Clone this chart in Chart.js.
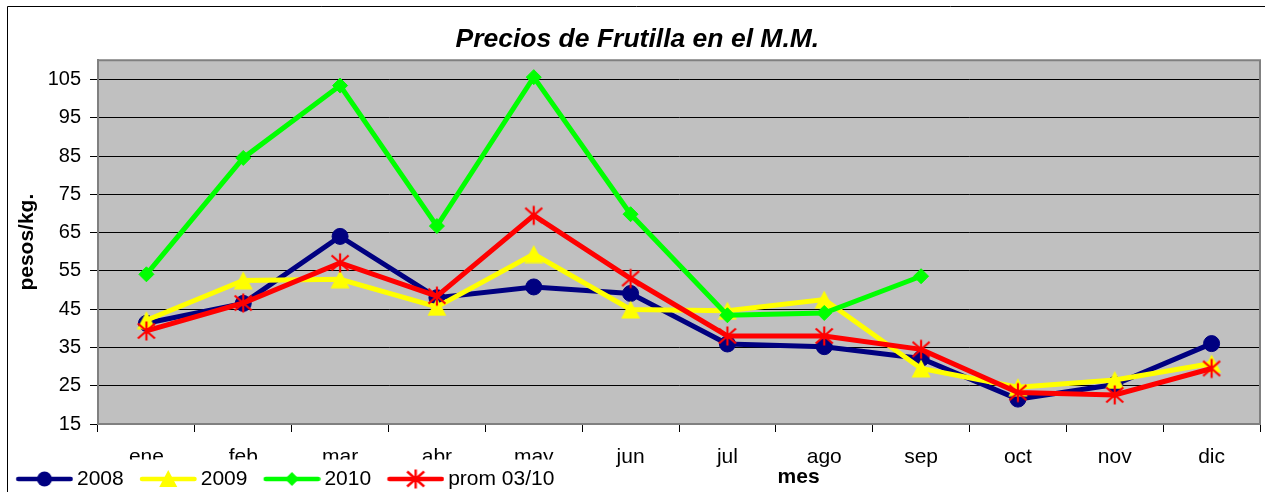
<!DOCTYPE html>
<html>
<head>
<meta charset="utf-8">
<script src="https://cdn.jsdelivr.net/npm/chart.js@4.4.1/dist/chart.umd.min.js"></script>
<style>
html,body{margin:0;padding:0;background:#ffffff;}
#wrap{width:1265px;height:492px;position:relative;overflow:hidden;}
canvas{display:block;}
</style>
</head>
<body>
<div id="wrap"><canvas id="c" width="1265" height="492"></canvas></div>
<script>
// ---- data ----
const categories = ['ene','feb','mar','abr','may','jun','jul','ago','sep','oct','nov','dic'];
const serie2008 = [41.3, 46.5, 64.0, 48.0, 50.8, 49.1, 35.9, 35.2, 32.1, 21.5, 25.3, 36.0];
const serie2009 = [42.1, 52.5, 52.8, 45.6, 59.4, 44.9, 44.6, 47.5, 29.5, 24.6, 26.5, 30.8];
const serie2010 = [54.1, 84.5, 103.4, 66.7, 105.6, 69.8, 43.4, 44.0, 53.6, null, null, null];
const seriePromedio = [39.3, 46.6, 57.1, 48.4, 69.5, 53.0, 38.0, 38.0, 34.5, 23.2, 22.6, 29.5];
const seriesNames = ['2008', '2009', '2010', 'prom 03/10'];
const yTicks = [15, 25, 35, 45, 55, 65, 75, 85, 95, 105];
const chartTitle = 'Precios de Frutilla en el M.M.';
const xTitle = 'mes';
const yTitle = 'pesos/kg.';

const FONT = "'Liberation Sans', Arial, Helvetica, sans-serif";
const C2008 = '#000080', C2009 = '#ffff00', C2010 = '#00ff00', CPROM = '#ff0000';

// marker images
function triangleImg(color) {
  const c = document.createElement('canvas'); c.width = 20; c.height = 19;
  const g = c.getContext('2d'); g.fillStyle = color;
  g.beginPath(); g.moveTo(10, 0.5); g.lineTo(19.5, 18.5); g.lineTo(0.5, 18.5); g.closePath(); g.fill();
  return c;
}
function starImg(color) {
  const c = document.createElement('canvas'); c.width = 22; c.height = 22;
  const g = c.getContext('2d'); g.strokeStyle = color; g.lineWidth = 2.2; g.lineCap = 'butt';
  const cx = 11, cy = 11;
  g.beginPath();
  g.moveTo(cx, cy - 9.5); g.lineTo(cx, cy + 9.5);
  g.moveTo(cx - 8.5, cy - 7.5); g.lineTo(cx + 8.5, cy + 7.5);
  g.moveTo(cx - 8.5, cy + 7.5); g.lineTo(cx + 8.5, cy - 7.5);
  g.stroke();
  return c;
}
function legendIcon(color, marker) {
  const c = document.createElement('canvas'); c.width = 64; c.height = 24;
  const g = c.getContext('2d');
  g.strokeStyle = color; g.lineWidth = 4.5; g.lineCap = 'round';
  g.beginPath(); g.moveTo(9, 12); g.lineTo(61.5, 12); g.stroke();
  const cx = 35.25, cy = 12;
  g.fillStyle = color;
  if (marker === 'circle') {
    g.beginPath(); g.arc(cx, cy, 7.5, 0, Math.PI * 2); g.fill();
  } else if (marker === 'triangle') {
    g.beginPath(); g.moveTo(cx, cy - 9); g.lineTo(cx + 9, cy + 8); g.lineTo(cx - 9, cy + 8); g.closePath(); g.fill();
  } else if (marker === 'diamond') {
    g.beginPath(); g.moveTo(cx, cy - 7); g.lineTo(cx + 7, cy); g.lineTo(cx, cy + 7); g.lineTo(cx - 7, cy); g.closePath(); g.fill();
  } else if (marker === 'star') {
    g.lineWidth = 2.4; g.lineCap = 'butt';
    g.beginPath();
    g.moveTo(cx, cy - 9.5); g.lineTo(cx, cy + 9.5);
    g.moveTo(cx - 8.5, cy - 7.5); g.lineTo(cx + 8.5, cy + 7.5);
    g.moveTo(cx - 8.5, cy + 7.5); g.lineTo(cx + 8.5, cy - 7.5);
    g.stroke();
  }
  return c;
}
const legendIcons = [
  legendIcon(C2008, 'circle'),
  legendIcon(C2009, 'triangle'),
  legendIcon(C2010, 'diamond'),
  legendIcon(CPROM, 'star')
];

const framePlugin = {
  id: 'frame',
  beforeDraw(chart) {
    const {ctx, chartArea: a} = chart;
    ctx.save();
    ctx.fillStyle = '#ffffff'; ctx.fillRect(0, 0, chart.width, chart.height);
    ctx.fillStyle = '#c0c0c0'; ctx.fillRect(a.left, a.top, a.right - a.left, a.bottom - a.top);
    ctx.strokeStyle = '#000000'; ctx.lineWidth = 1;
    ctx.beginPath(); ctx.moveTo(7.5, chart.height); ctx.lineTo(7.5, 6.5); ctx.lineTo(chart.width, 6.5); ctx.stroke();
    ctx.restore();
  },
  beforeDatasetsDraw(chart) {
    const {ctx, chartArea: a} = chart;
    ctx.save(); ctx.strokeStyle = '#808080'; ctx.lineWidth = 2;
    ctx.beginPath(); ctx.moveTo(a.left, a.top); ctx.lineTo(a.right, a.top); ctx.lineTo(a.right, a.bottom); ctx.stroke();
    ctx.restore();
  },
  afterDraw(chart) {
    const lg = chart.legend;
    if (!lg) return;
    const ctx = chart.ctx;
    ctx.save(); ctx.fillStyle = '#ffffff';
    ctx.fillRect(8, 459.5, 560 - 8, chart.height - 459.5);
    ctx.restore();
    lg.draw();
  }
};

function ds(label, data, color, pointStyle, radius, order) {
  return {
    label, data, order,
    borderColor: color, backgroundColor: color, borderWidth: 5,
    pointStyle, pointRadius: radius, pointHoverRadius: radius,
    pointBackgroundColor: color, pointBorderColor: color, pointBorderWidth: 1,
    tension: 0, spanGaps: false
  };
}

Chart.defaults.font.family = FONT;
new Chart(document.getElementById('c'), {
  type: 'line',
  data: {
    labels: categories,
    datasets: [
      ds(seriesNames[0], serie2008, C2008, 'circle', 8, 4),
      ds(seriesNames[1], serie2009, C2009, triangleImg(C2009), 10, 3),
      ds(seriesNames[2], serie2010, C2010, 'rectRot', 7.5, 2),
      ds(seriesNames[3], seriePromedio, CPROM, starImg(CPROM), 10, 1)
    ]
  },
  options: {
    responsive: false, animation: false, events: [],
    layout: { autoPadding: false, padding: { top: 0, left: 0, right: 5, bottom: -7.5 } },
    scales: {
      x: {
        offset: true,
        afterFit: (ax) => {
          ax.height = 28.5;
          // let the month labels extend below the axis box (the legend overlaps them)
          ax._computeLabelArea = function () {
            return { top: this.top, left: 0, bottom: this.chart.height, right: this.chart.width };
          };
        },
        grid: { offset: true, drawOnChartArea: false, drawTicks: true, tickLength: 8, color: '#000000', lineWidth: 1 },
        border: { display: true, color: '#808080', width: 2 },
        ticks: { padding: 13, color: '#000000', font: { family: FONT, size: 21 }, maxRotation: 0, autoSkip: false },
        title: { display: true, text: ' '.repeat(41) + xTitle, color: '#000000',
          font: { family: FONT, size: 21, weight: 'bold' }, padding: { top: 0, bottom: -37 } }
      },
      y: {
        min: 15, max: 110,
        afterBuildTicks: (ax) => { ax.ticks = yTicks.map(v => ({ value: v })); },
        afterFit: (ax) => { ax.width = 98; },
        grid: { color: '#000000', lineWidth: 1, tickLength: 8, drawTicks: true, tickColor: '#000000' },
        border: { display: true, color: '#808080', width: 2 },
        ticks: { padding: 9, color: '#000000', font: { family: FONT, size: 20 } },
        title: { display: true, text: yTitle, color: '#000000',
          font: { family: FONT, size: 21, weight: 'bold' }, padding: { top: 15, bottom: 0 } }
      }
    },
    plugins: {
      tooltip: { enabled: false },
      title: { display: true, text: '  ' + chartTitle, color: '#000000',
        font: { family: FONT, size: 26.5, weight: 'bold', style: 'italic' },
        padding: { top: 23.5, bottom: 5 } },
      legend: {
        display: true, position: 'bottom', align: 'start',
        labels: {
          usePointStyle: true, pointStyleWidth: 50.5, padding: 16, color: '#000000',
          font: { family: FONT, size: 21 },
          sort: (a, b) => a.datasetIndex - b.datasetIndex,
          generateLabels(chart) {
            const items = Chart.defaults.plugins.legend.labels.generateLabels(chart);
            items.forEach(it => { it.pointStyle = legendIcons[it.datasetIndex]; it.lineWidth = 0; });
            return items;
          }
        }
      }
    }
  },
  plugins: [framePlugin]
});
</script>
</body>
</html>
